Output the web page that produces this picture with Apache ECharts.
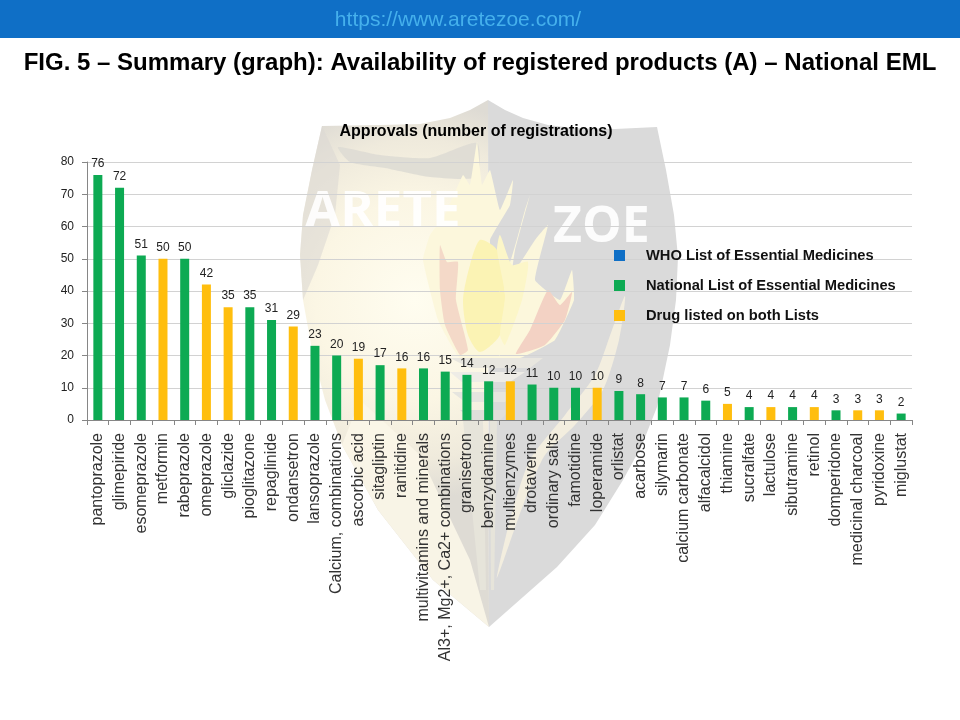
<!DOCTYPE html>
<html>
<head>
<meta charset="utf-8">
<style>html,body{margin:0;padding:0;background:#fff}#c{width:960px;height:720px}</style>
<script src="https://cdn.jsdelivr.net/npm/echarts@6/dist/echarts.min.js"></script>
</head>
<body>
<div id="c"></div>
<script>
const categories = ['pantoprazole','glimepiride','esomeprazole','metformin','rabeprazole','omeprazole','gliclazide','pioglitazone','repaglinide','ondansetron','lansoprazole','Calcium, combinations','ascorbic acid','sitagliptin','ranitidine','multivitamins and minerals','Al3+, Mg2+, Ca2+ combinations','granisetron','benzydamine','multienzymes','drotaverine','ordinary salts','famotidine','loperamide','orlistat','acarbose','silymarin','calcium carbonate','alfacalcidol','thiamine','sucralfate','lactulose','sibutramine','retinol','domperidone','medicinal charcoal','pyridoxine','miglustat'];
const approvals = [76,72,51,50,50,42,35,35,31,29,23,20,19,17,16,16,15,14,12,12,11,10,10,10,9,8,7,7,6,5,4,4,4,4,3,3,3,2];
const onBothLists = ['metformin','omeprazole','gliclazide','ondansetron','ascorbic acid','ranitidine','multienzymes','loperamide','thiamine','lactulose','retinol','medicinal charcoal','pyridoxine'];
const yTicks = {min:0,max:80,interval:10};
const seriesNames = ['WHO List of Essential Medicines','National List of Essential Medicines','Drug listed on both Lists'];

const font = 'Liberation Sans, Arial, sans-serif';
const poly = (points, fill, smooth, opacity) => ({type:'polygon', z:-10, silent:true,
  shape:{points, smooth:smooth||0}, style:{fill, opacity:opacity==null?1:opacity}});
const shieldLeft = [[488,100],[470,110],[450,118],[420,124],[380,125],[322,126],[312,170],[303,215],[300,255],[303,300],[312,350],[325,400],[342,445],[378,510],[433,580],[489,627]];
const shieldRight = [[488,100],[505,110],[523,118],[548,125],[573,128],[615,129],[657,127],[666,170],[674,215],[678,257],[676,300],[670,345],[657,407],[642,445],[623,480],[595,525],[557,567],[489,627]];
const watermark = [
  {type:'polygon', z:-12, silent:true, shape:{points:shieldLeft},
   style:{fill:{type:'radial',x:415,y:300,r:200,global:true,colorStops:[
     {offset:0,color:'#fffdf0'},{offset:.5,color:'#fbf6e4'},{offset:.8,color:'#efeadc'},{offset:1,color:'#dedbd4'}]}}},
  poly([[322,126],[312,170],[303,215],[300,255],[303,300],[318,265],[335,215],[340,165]],'#dcd9d3',0,.6),
  poly([[338,147],[380,155],[430,158],[477,143],[477,177],[430,177],[385,168],[350,162]],'#dedbd4',.2,.9),
  poly([[360,400],[420,455],[470,560],[489,627],[433,580],[378,510],[342,445]],'#fbf6e8',0,.9),
  poly(shieldRight,'#dadada'),
  // torch flames
  poly([[477,142],[482,185],[490,170],[500,210],[513,180],[510,205],[490,240],[495,270],[510,262],[525,210],[530,195],[515,250],[512,275],[535,240],[548,225],[535,280],[560,300],[572,270],[574,300],[555,340],[520,358],[460,358],[438,320],[423,260],[430,235],[445,215],[463,175],[470,185]],'#fcf7dc',.1),
  poly([[440,245],[447,262],[458,262],[456,300],[468,350],[460,355],[445,325],[440,290]],'#f4d9c8',.15),
  poly([[572,292],[560,305],[548,290],[530,330],[516,354],[545,345],[565,320]],'#f3d2c4',.15),
  poly([[480,240],[497,250],[505,295],[500,335],[480,352],[468,335],[463,300],[470,265]],'#fbf3b4',.25),
  poly([[500,235],[512,265],[528,262],[522,300],[505,345],[500,335],[505,295],[497,250]],'#fcf6c8',.2),
  // pedestal
  poly([[450,358],[543,358],[530,368],[470,368]],'#e8e6df',0),
  poly([[450,372],[525,372],[510,382],[462,382]],'#eeece6',0),
  poly([[452,392],[515,392],[505,402],[465,402]],'#e6e5df',0),
  poly([[460,410],[510,410],[500,420],[472,420]],'#e0dfda',0),
  poly([[463,420],[483,420],[486,590],[480,590]],'#e6e4da',0),
  poly([[490,420],[497,420],[494,590],[491,590]],'#e6e4da',0),
  // crescent in the right half
  poly([[625,296],[619,340],[603,390],[575,425],[545,455],[525,500],[497,578],[510,520],[530,460],[565,415],[595,375],[612,330]],'#f3eedf',.25),
  {type:'text', z:-5, silent:true, style:{x:305,y:187,text:'ARETE',fill:'#ffffff',font:'bold 51px "Open Sans", sans-serif',opacity:.9}},
  {type:'text', z:-5, silent:true, style:{x:553,y:203,text:'ZOE',fill:'#ffffff',font:'bold 50px "Open Sans", sans-serif',opacity:.9}}
];

const both = new Set(onBothLists);
const labelStyle = {show:true, position:'top', distance:5, color:'#222', fontSize:12, fontFamily:font};
const makeSeries = (name,color,data) => ({name,type:'bar',stack:'all',barWidth:9,data,
  itemStyle:{color}, label:labelStyle, z:3, emphasis:{disabled:true}});

const chart = echarts.init(document.getElementById('c'), null, {renderer:'canvas', width:960, height:720});
chart.setOption({
  animation:false,
  backgroundColor:'#fff',
  title:[
    {text:'https://www.aretezoe.com/', left:453, top:15, textAlign:'center', textVerticalAlign:'middle',
     textStyle:{color:'#45B0EC',fontSize:21,fontWeight:'normal',fontFamily:font}},
    {text:'FIG. 5 – Summary (graph): Availability of registered products (A) – National EML', left:475, top:58, textAlign:'center', textVerticalAlign:'middle',
     textStyle:{color:'#000',fontSize:24,fontWeight:'bold',fontFamily:font}},
    {text:'Approvals (number of registrations)', left:471, top:127, textAlign:'center', textVerticalAlign:'middle',
     textStyle:{color:'#000',fontSize:16,fontWeight:'bold',fontFamily:font}}
  ],
  legend:{orient:'vertical', left:609, top:243, itemWidth:11, itemHeight:11, itemGap:15, icon:'rect', selectedMode:false,
    data:seriesNames, textStyle:{color:'#111',fontSize:14.7,fontWeight:'bold',fontFamily:font,padding:[0,0,0,16],height:15,lineHeight:15}},
  grid:{left:87,right:48,top:162,bottom:300,containLabel:false},
  xAxis:{type:'category',data:categories,
    axisLine:{show:true,lineStyle:{color:'#868686'}},
    axisTick:{show:true,length:5,alignWithLabel:false,lineStyle:{color:'#868686'}},
    axisLabel:{interval:0,rotate:90,margin:13,color:'#333',fontSize:16,fontFamily:font},
    splitLine:{show:false}},
  yAxis:{type:'value',min:yTicks.min,max:yTicks.max,interval:yTicks.interval,
    axisLine:{show:true,lineStyle:{color:'#868686'}},
    axisTick:{show:true,length:5,lineStyle:{color:'#868686'}},
    axisLabel:{margin:13,color:'#222',fontSize:12,fontFamily:font},
    splitLine:{show:true,lineStyle:{color:'#d2d2d2',width:1}}},
  series:[
    makeSeries(seriesNames[0],'#0F6FC6',categories.map(()=>null)),
    makeSeries(seriesNames[1],'#0DAA53',approvals.map((v,i)=>both.has(categories[i])?null:v)),
    makeSeries(seriesNames[2],'#FFBE0E',approvals.map((v,i)=>both.has(categories[i])?v:null))
  ],
  graphic:{elements:[
    {type:'rect',z:-20,silent:true,shape:{x:0,y:0,width:960,height:38},style:{fill:'#0F6FC6'}},
    ...watermark
  ]}
});
</script>
</body>
</html>
